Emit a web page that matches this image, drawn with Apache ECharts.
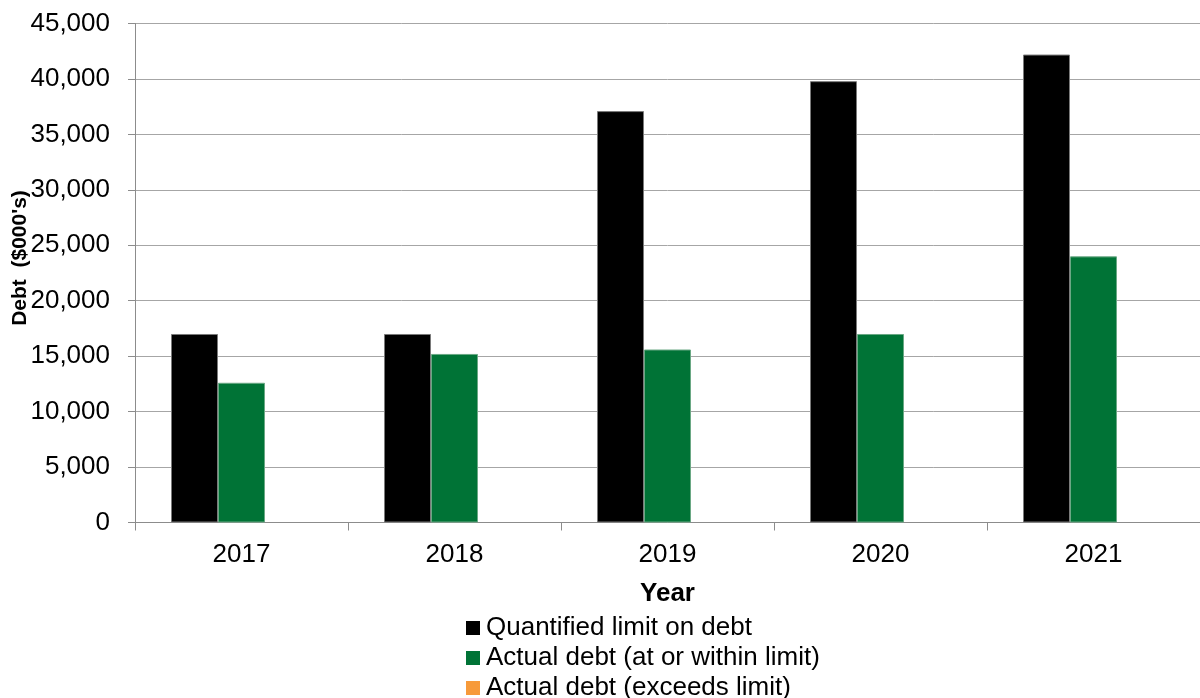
<!DOCTYPE html>
<html>
<head>
<meta charset="utf-8">
<title>Debt vs quantified limit</title>
<script src="https://cdn.jsdelivr.net/npm/echarts@6/dist/echarts.min.js"></script>
<style>
  html, body { margin: 0; padding: 0; background: #ffffff; }
  #chart { width: 1200px; height: 698px; }
</style>
</head>
<body>
<div id="chart"></div>
<script>
// Years on the category axis
const years = ['2017', '2018', '2019', '2020', '2021'];
// Debt figures in $000's
const quantifiedLimit = [17000, 17000, 37100, 39800, 42200];
const actualWithin = [12600, 15200, 15600, 17000, 24000];
const actualExceeds = [null, null, null, null, null];
// Value-axis range
const yMin = 0;
const yMax = 45000;
const yStep = 5000;

const FONT = '"Liberation Sans", Arial, sans-serif';

const chart = echarts.init(document.getElementById('chart'), null, { renderer: 'canvas' });

chart.setOption({
  animation: false,
  backgroundColor: '#ffffff',
  textStyle: { fontFamily: FONT, color: '#000' },
  grid: { left: 135, top: 23.5, width: 1066, height: 499, containLabel: false },
  legend: {
    orient: 'vertical',
    left: 461,
    top: 610,
    height: 140,
    itemWidth: 14,
    itemHeight: 14,
    itemGap: 4,
    icon: 'rect',
    itemStyle: { borderWidth: 0 },
    textStyle: { fontFamily: FONT, fontSize: 26, color: '#000', padding: [0, 0, 0, 1] },
    data: ['Quantified limit on debt', 'Actual debt (at or within limit)', 'Actual debt (exceeds limit)']
  },
  xAxis: {
    type: 'category',
    data: years,
    name: 'Year',
    nameLocation: 'middle',
    nameGap: 58,
    nameTextStyle: { fontFamily: FONT, fontSize: 26, fontWeight: 'bold', color: '#000' },
    axisLine: { lineStyle: { color: '#8c8c8c', width: 1 } },
    axisTick: { show: true, length: 8, lineStyle: { color: '#8c8c8c' } },
    axisLabel: { fontFamily: FONT, fontSize: 26, color: '#000', margin: 19 }
  },
  yAxis: {
    type: 'value',
    min: yMin,
    max: yMax,
    interval: yStep,
    axisLine: { show: true, lineStyle: { color: '#8c8c8c', width: 1 } },
    axisTick: { show: true, length: 7, lineStyle: { color: '#8c8c8c' } },
    splitLine: { show: true, lineStyle: { color: '#a6a6a6', width: 1 } },
    axisLabel: {
      fontFamily: FONT, fontSize: 26, color: '#000', margin: 25,
      formatter: v => v.toLocaleString('en-US')
    }
  },
  graphic: [{
    type: 'text',
    x: 20,
    y: 258,
    rotation: Math.PI / 2,
    style: {
      text: "Debt  ($000's)",
      font: 'bold 21px "Liberation Sans", Arial, sans-serif',
      fill: '#000',
      textAlign: 'center',
      textVerticalAlign: 'middle'
    }
  }],
  series: [
    {
      name: 'Quantified limit on debt',
      type: 'bar',
      data: quantifiedLimit,
      barWidth: 47,
      barGap: '0%',
      itemStyle: { color: '#000000', borderColor: '#7a7a7a', borderWidth: 1 }
    },
    {
      name: 'Actual debt (at or within limit)',
      type: 'bar',
      data: actualWithin,
      barWidth: 47,
      barGap: '0%',
      itemStyle: { color: '#007336', borderColor: '#6aa884', borderWidth: 1 }
    },
    {
      name: 'Actual debt (exceeds limit)',
      type: 'bar',
      data: actualExceeds,
      barWidth: 47,
      barGap: '0%',
      itemStyle: { color: '#f79a3a' }
    }
  ]
});
</script>
</body>
</html>
